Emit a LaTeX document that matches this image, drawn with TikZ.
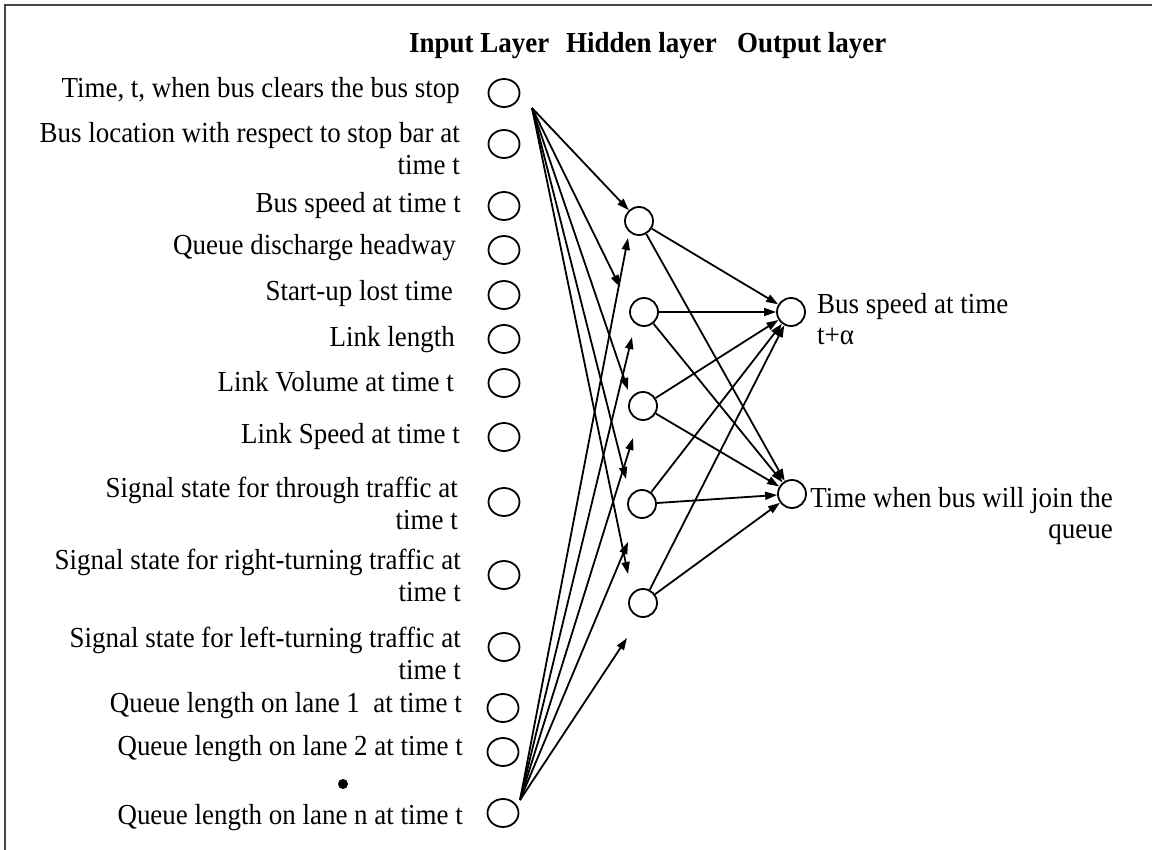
\documentclass[tikz,border=0pt]{standalone}
\usepackage{fontspec}
\setmainfont{Liberation Serif}[FakeStretch=0.93]
\usetikzlibrary{arrows.meta,shapes.geometric}
\definecolor{framegray}{RGB}{70,70,70}
\begin{document}
\begin{tikzpicture}[x=1pt,y=-1pt,
  lbl/.style={font=\fontsize{29}{32}\selectfont, inner sep=0pt, align=right, anchor=east},
  outlbl/.style={font=\fontsize{29}{31}\selectfont, inner sep=0pt},
  hdr/.style={font=\fontsize{29}{32}\selectfont\bfseries, inner sep=0pt, anchor=base west},
  inp/.style={draw, line width=1.8pt, ellipse, minimum width=31pt, minimum height=28pt, inner sep=0pt},
  neu/.style={draw, line width=1.8pt, circle, minimum size=28pt, inner sep=0pt},
  conn/.style={line width=1.8pt, -{Triangle[length=12pt,width=8pt]}},
]
\useasboundingbox (0,0) rectangle (1152,850);
% frame (top and left edges)
\draw[line width=2pt, framegray] (5,850) -- (5,5) -- (1152,5);

% layer headings
\node[hdr] (hin)  at (409,53) {Input Layer};
\node[hdr] (hhid) at (566,53) {Hidden layer};
\node[hdr] (hout) at (737,53) {Output layer};

% input labels
\node[lbl] (l1)  at (460,91)  {Time, t, when bus clears the bus stop};
\node[lbl] (l2)  at (460,149) {Bus location with respect to stop bar at\\time t};
\node[lbl] (l3)  at (461,206) {Bus speed at time t};
\node[lbl] (l4)  at (456,248) {Queue discharge headway};
\node[lbl] (l5)  at (453,294) {Start-up lost time};
\node[lbl] (l6)  at (455,340) {Link length};
\node[lbl] (l7)  at (454,382) {Link Volume at time t};
\node[lbl] (l8)  at (460,437) {Link Speed at time t};
\node[lbl] (l9)  at (458,503) {Signal state for through traffic at\\time t};
\node[lbl] (l10) at (461,575) {Signal state for right-turning traffic at\\time t};
\node[lbl] (l11) at (461,653) {Signal state for left-turning traffic at\\time t};
\node[lbl] (l12) at (462,706) {Queue length on lane 1\ \ at time t};
\node[lbl] (l13) at (463,749) {Queue length on lane 2 at time t};
\node[lbl] (l14) at (463,818) {Queue length on lane n at time t};
\fill (343,784) circle (5pt);

% input neurons
\node[inp] (i1)  at (504,93)  {};
\node[inp] (i2)  at (504,144) {};
\node[inp] (i3)  at (504,206) {};
\node[inp] (i4)  at (504,250) {};
\node[inp] (i5)  at (504,295) {};
\node[inp] (i6)  at (504,339) {};
\node[inp] (i7)  at (504,383) {};
\node[inp] (i8)  at (504,437) {};
\node[inp] (i9)  at (504,502) {};
\node[inp] (i10) at (504,575) {};
\node[inp] (i11) at (504,647) {};
\node[inp] (i12) at (503,708) {};
\node[inp] (i13) at (503,752) {};
\node[inp] (i14) at (503,813) {};

% hidden neurons
\node[neu] (h1) at (639,221) {};
\node[neu] (h2) at (644,312) {};
\node[neu] (h3) at (643,406) {};
\node[neu] (h4) at (642,504) {};
\node[neu] (h5) at (643,603) {};

% output neurons
\node[neu] (o1) at (791,312) {};
\node[neu] (o2) at (792,494) {};

% output labels
\node[outlbl, align=left, anchor=west] (lo1) at (817,319) {Bus speed at time\\t+α};
\node[outlbl, align=right, anchor=east] (lo2) at (1113,516) {Time when bus will join the\\queue};

% fan-out points and arrow ends near the hidden layer
\coordinate (s1) at (532,108);
\coordinate (s2) at (520,800);
\coordinate (p12) at (620,287);
\coordinate (p13) at (628,390);
\coordinate (p14) at (626,479);
\coordinate (p15) at (628,574);
\coordinate (p21) at (628,238);
\coordinate (p22) at (632,337);
\coordinate (p23) at (633,438);
\coordinate (p24) at (628,542);
\coordinate (p25) at (627,638);

% first input towards the hidden layer
\draw[conn] (s1) -- (h1);
\foreach \p in {p12,p13,p14,p15} \draw[conn] (s1) -- (\p);
% last input towards the hidden layer
\foreach \p in {p21,p22,p23,p24,p25} \draw[conn] (s2) -- (\p);

% hidden to output
\foreach \h in {h1,h2,h3,h4,h5}
  \foreach \o in {o1,o2}
    \draw[conn] (\h) -- (\o);
\end{tikzpicture}
\end{document}
